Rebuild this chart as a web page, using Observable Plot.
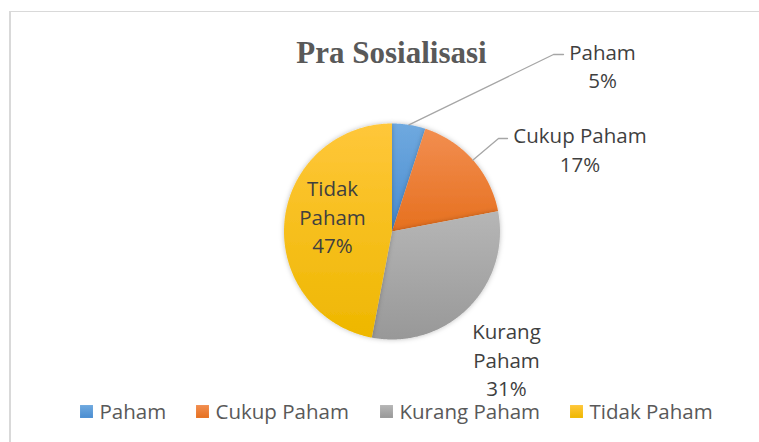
<!DOCTYPE html>
<html><head><meta charset="utf-8">
<script src="https://cdn.jsdelivr.net/npm/d3@7"></script>
<script src="https://cdn.jsdelivr.net/npm/@observablehq/plot@0.6"></script>
<style>body{margin:0;background:#fff} #chart{width:759px;height:442px}</style>
</head><body><div id="chart"></div>
<script>
// ---- data ----
const title = "Pra Sosialisasi";
const categories = ["Paham", "Cukup Paham", "Kurang Paham", "Tidak Paham"];
const values = [5, 17, 31, 47];

// ---- style / layout (kept separate from data) ----
const gradTop = ["#6FA9DF", "#F28E50", "#B6B6B6", "#FFC73A"];
const gradBottom = ["#4A8DD1", "#E6701F", "#989898", "#EEB700"];
const W = 759, H = 442;
const cx = 391.5, cy = 231, R = 108;
const labelPos = [ // label center, optional leader elbow, wrap
  {x: 602, y: 64.4, elbow: [553, 54], end: [563, 54], wrap: false},
  {x: 579.5, y: 147.9, elbow: [498, 138], end: [507, 138], wrap: false},
  {x: 506, y: 358, wrap: true},
  {x: 332, y: 215.3, wrap: true}
];
const legendSquareX = [86, 202, 386, 576];
const legendTextX = [99, 215, 399, 589];
const legendY = 411;
const fontSize = 20.5;

const total = d3.sum(values);
const arcs = d3.pie().sort(null).value(d => d)(values);
const pt = (a, r) => ({x: cx + r * Math.sin(a), y: cy - r * Math.cos(a)});

const slices = arcs.map((a, i) => {
  const pts = [{x: cx, y: cy}];
  const n = Math.max(2, Math.ceil((a.endAngle - a.startAngle) / 0.01));
  for (let k = 0; k <= n; k++) pts.push(pt(a.startAngle + (a.endAngle - a.startAngle) * k / n, R));
  return pts;
});

const defs = () => {
  const d = d3.create("svg:defs");
  categories.forEach((c, i) => {
    const g = d.append("linearGradient").attr("id", "g" + i).attr("x1", 0).attr("y1", 0).attr("x2", 0).attr("y2", 1);
    g.append("stop").attr("offset", "0%").attr("stop-color", gradTop[i]);
    g.append("stop").attr("offset", "100%").attr("stop-color", gradBottom[i]);
  });
  const f = d.append("filter").attr("id", "shadow").attr("x", "-20%").attr("y", "-20%").attr("width", "140%").attr("height", "140%");
  f.append("feDropShadow").attr("dx", 0).attr("dy", 0).attr("stdDeviation", 2.5).attr("flood-color", "#000").attr("flood-opacity", 0.25);
  return d.node();
};

const marks = [defs];
// border
marks.push(Plot.ruleY([11], {x1: 9, x2: W, stroke: "#d9d9d9", strokeWidth: 1}));
marks.push(Plot.ruleX([9.5], {y1: 11, y2: H, stroke: "#d9d9d9", strokeWidth: 2}));
// slices
slices.forEach((s, i) => marks.push(Plot.line(s, {x: "x", y: "y", fill: `url(#g${i})`, stroke: "none", curve: "linear-closed"})));
// leader lines
arcs.forEach((a, i) => {
  const L = labelPos[i];
  if (!L.elbow) return;
  const s = pt((a.startAngle + a.endAngle) / 2, R);
  marks.push(Plot.line([s, {x: L.elbow[0], y: L.elbow[1]}, {x: L.end[0], y: L.end[1]}], {x: "x", y: "y", stroke: "#a6a6a6", strokeWidth: 1.3}));
});
// data labels
const labelData = categories.map((c, i) => ({
  x: labelPos[i].x, y: labelPos[i].y,
  text: (labelPos[i].wrap ? c.replace(" ", "\n") : c) + "\n" + Math.round(values[i] / total * 100) + "%"
}));
marks.push(Plot.text(labelData, {x: "x", y: "y", text: "text", fontSize, lineHeight: 1.39, fill: "#3f3f3f", textAnchor: "middle"}));
// title
marks.push(Plot.text([title], {x: () => 391, y: () => 52.3, text: d => d, fontSize: 31, fontWeight: "bold", fontFamily: "'Liberation Serif', serif", fill: "#595959"}));
// legend
categories.forEach((c, i) => {
  marks.push(Plot.dot([c], {x: () => legendSquareX[i], y: () => legendY, symbol: "square", r: 7.3, fill: `url(#g${i})`, stroke: "none"}));
});
marks.push(Plot.text(categories, {x: (d, i) => legendTextX[i], y: () => legendY + 0.8, text: d => d, textAnchor: "start", fontSize, fill: "#595959"}));

const svg = Plot.plot({
  width: W, height: H, margin: 0,
  x: {domain: [0, W], range: [0, W], axis: null},
  y: {domain: [0, H], range: [0, H], axis: null},
  style: {fontFamily: "'Open Sans', sans-serif", background: "#fff", overflow: "visible"},
  marks
});
d3.select(svg).selectAll("g[aria-label=line]").filter((d, i) => i < slices.length).attr("filter", "url(#shadow)");
document.getElementById("chart").appendChild(svg);
</script>
</body></html>
